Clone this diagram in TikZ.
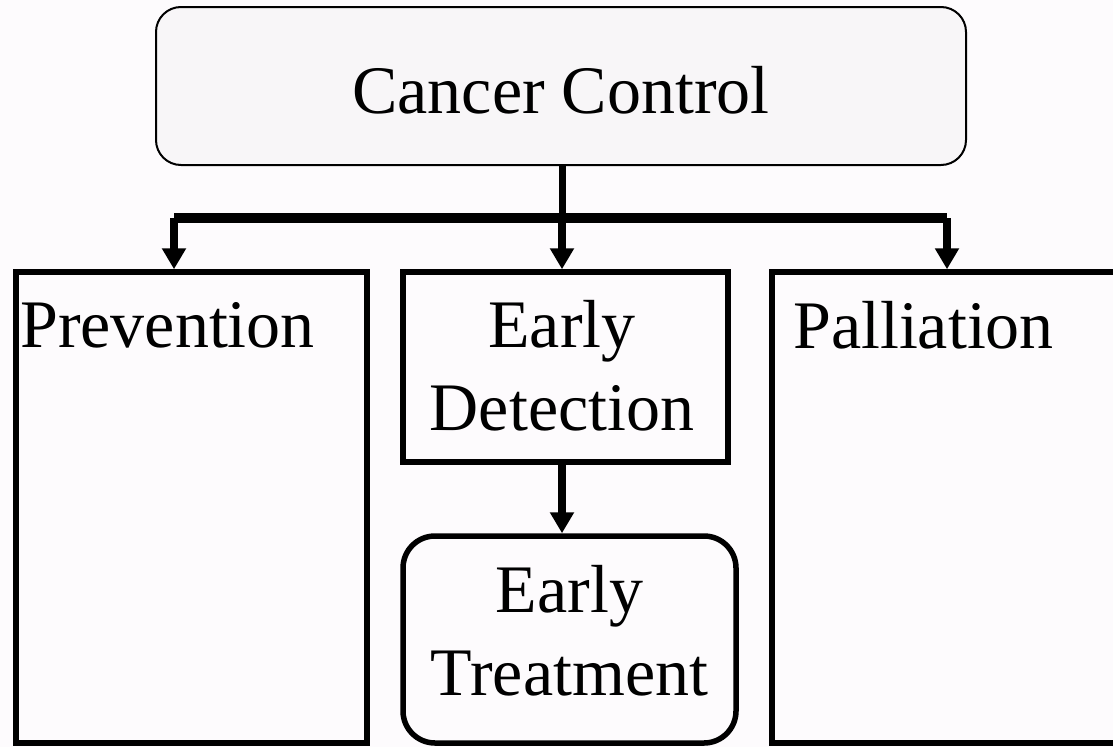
\documentclass[tikz,border=0pt]{standalone}
\usepackage{fontspec}
\setmainfont{Liberation Serif}
\usetikzlibrary{arrows.meta}
\definecolor{pagebg}{HTML}{FDFBFD}
\definecolor{rootfill}{HTML}{F8F6F8}
\begin{document}
\begin{tikzpicture}[x=1pt,y=-1pt,
  boxline/.style={draw=black,line width=5.5pt,inner sep=0pt,fill=pagebg},
  rootbox/.style={draw=black,line width=2pt,rounded corners=25pt,fill=rootfill,inner sep=0pt},
  lbl/.style={inner sep=0pt,font=\fontsize{68}{83}\selectfont,align=center},
  link/.style={line width=8pt,-{Triangle[width=23pt,length=21pt]}},
]
\clip (0,0) rectangle (1113,747);
\fill[pagebg] (0,0) rectangle (1113,747);

% boxes
\node[rootbox,minimum width=810pt,minimum height=158pt] (root) at (561,86) {};
\node[boxline,minimum width=351pt,minimum height=471pt] (prev) at (191.5,507.5) {};
\node[boxline,minimum width=325pt,minimum height=190pt] (detect) at (565.5,367) {};
\node[boxline,minimum width=348pt,minimum height=471pt] (pall) at (946,507.5) {};
\node[boxline,rounded corners=32pt,minimum width=333pt,minimum height=207pt] (treat) at (569.5,639.5) {};

% texts (base anchor = baseline of the last line)
\node[lbl,anchor=base] (rootText) at (561,113) {Cancer Control};
\node[lbl,anchor=base west] (prevText) at (20,347) {Prevention};
\node[lbl,anchor=base west] (pallText) at (793,348) {Palliation};
\node[lbl,anchor=base] (detectText) at (562,430) {Early\\Detection};
\node[lbl,anchor=base] (treatText) at (569.5,695) {Early\\Treatment};

% connectors
\coordinate (hub) at (562,218);
\coordinate (barL) at (174,218);
\coordinate (barR) at (947,218);
\draw[line width=7pt] (hub |- root.south) -- (hub);
\draw[line width=10pt] (barL) -- (barR);
\draw[link] (barL) -- (barL |- prev.north);
\draw[link] (hub) -- (hub |- detect.north);
\draw[link] (barR) -- (barR |- pall.north);
\draw[link] (hub |- detect.south) -- (hub |- treat.north);
\end{tikzpicture}
\end{document}
